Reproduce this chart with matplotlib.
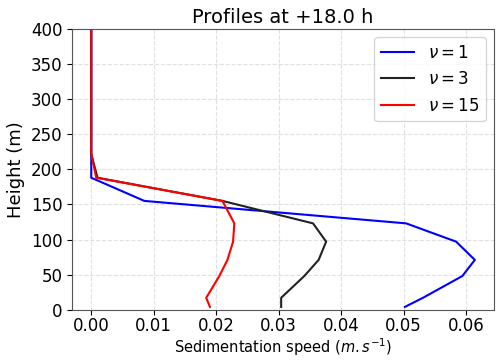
import matplotlib
matplotlib.use("Agg")
import matplotlib.pyplot as plt

# heights of model levels (m)
heights = [4, 17, 48, 71, 97, 123, 155, 188, 222, 260, 300, 350, 400]

# sedimentation speed (m/s) for each nu
speed_nu1 = [0.0502, 0.0531, 0.0594, 0.0614, 0.0584, 0.0504, 0.0085, 0.0, 0.0, 0.0, 0.0, 0.0, 0.0]
speed_nu3 = [0.0304, 0.0304, 0.0341, 0.0364, 0.0376, 0.0355, 0.0210, 0.0010, 0.0, 0.0, 0.0, 0.0, 0.0]
speed_nu15 = [0.0190, 0.0184, 0.0205, 0.0218, 0.0227, 0.0229, 0.0210, 0.0008, 0.0, 0.0, 0.0, 0.0, 0.0]

fig, ax = plt.subplots(figsize=(4.97, 3.61), dpi=100)

ax.plot(speed_nu1, heights, color='blue', lw=1.5, label=r'$\nu = 1$')
ax.plot(speed_nu3, heights, color='#222222', lw=1.5, label=r'$\nu = 3$')
ax.plot(speed_nu15, heights, color='red', lw=1.5, label=r'$\nu = 15$')

ax.set_ylim(0, 400)
ax.set_xticks([0.0, 0.01, 0.02, 0.03, 0.04, 0.05, 0.06])
ax.tick_params(labelsize=12, length=3.5)
ax.tick_params(axis='x', pad=2)
ax.grid(True, ls='--', color='#e0e0e0', lw=0.8)
for s in ax.spines.values():
    s.set_color('#555555')
ax.set_xlabel(r'Sedimentation speed ($m.s^{-1}$)', fontsize=10.5, labelpad=1)
ax.set_ylabel('Height (m)', fontsize=13, labelpad=4)
ax.set_title('Profiles at +18.0 h', fontsize=14, pad=4)
ax.legend(fontsize=12)

fig.subplots_adjust(left=0.145, right=0.994, top=0.92, bottom=0.142)
fig.savefig('out.png')
